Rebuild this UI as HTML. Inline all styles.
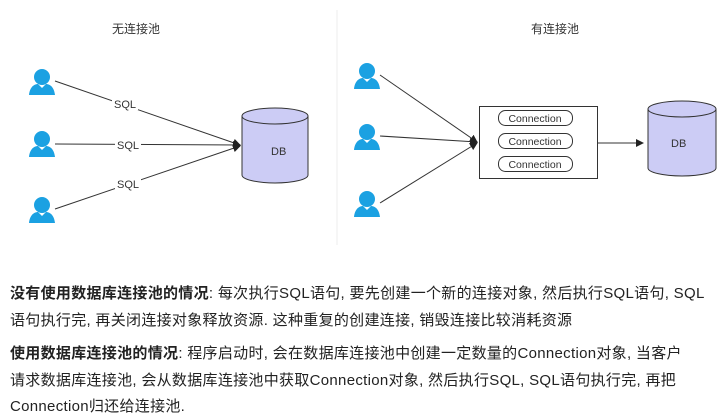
<!DOCTYPE html>
<html><head><meta charset="utf-8"><style>
body{margin:0;width:727px;height:417px;background:#fff;overflow:hidden;position:relative;font-family:"Liberation Sans","Noto Sans CJK SC",sans-serif}
svg{position:absolute;left:0;top:0}
.t{position:absolute;left:10px;font-size:15px;color:#222;white-space:nowrap;line-height:27px;letter-spacing:0.3px}
b{font-weight:bold}
</style></head><body>
<svg width="727" height="260" viewBox="0 0 727 260">
<defs>
<g id="u"><circle cx="13" cy="9" r="8" fill="#1ba1e2"/><path d="M0 27 C1 18 6 16 9 16 L13 20 L17 16 C20 16 25 18 26 27 Z" fill="#1ba1e2"/></g>
<marker id="a" markerWidth="8" markerHeight="8" refX="7" refY="4" orient="auto" markerUnits="userSpaceOnUse"><path d="M0 0 L8 4 L0 8 Z" fill="#222"/></marker>
</defs>
<line x1="337" y1="10" x2="337" y2="245" stroke="#eee"/>
<text x="136" y="33" font-size="12" text-anchor="middle" fill="#333" font-family="Liberation Sans,Noto Sans CJK SC,sans-serif">无连接池</text>
<text x="555" y="33" font-size="12" text-anchor="middle" fill="#333" font-family="Liberation Sans,Noto Sans CJK SC,sans-serif">有连接池</text>
<use href="#u" x="29" y="68"/><use href="#u" x="29" y="130"/><use href="#u" x="29" y="196"/>
<g stroke="#333" stroke-width="1">
<line x1="55" y1="81" x2="240" y2="145" marker-end="url(#a)"/>
<line x1="55" y1="144" x2="240" y2="145" marker-end="url(#a)"/>
<line x1="55" y1="209" x2="240" y2="146" marker-end="url(#a)"/>
</g>
<g font-size="11" fill="#333" text-anchor="middle">
<rect x="112" y="98" width="26" height="12" fill="#fff"/><text x="125" y="108">SQL</text>
<rect x="115" y="139" width="26" height="12" fill="#fff"/><text x="128" y="149">SQL</text>
<rect x="115" y="178" width="26" height="12" fill="#fff"/><text x="128" y="188">SQL</text>
</g>
<g stroke="#333" fill="#ccccf5">
<path d="M242 116 L242 175 A33 8 0 0 0 308 175 L308 116"/>
<ellipse cx="275" cy="116" rx="33" ry="8"/>
</g>
<text x="271" y="155" font-size="11" fill="#333">DB</text>
<use href="#u" x="354" y="62"/><use href="#u" x="354" y="123"/><use href="#u" x="354" y="190"/>
<g stroke="#333" stroke-width="1">
<line x1="380" y1="75" x2="477" y2="142" marker-end="url(#a)"/>
<line x1="380" y1="136" x2="477" y2="142" marker-end="url(#a)"/>
<line x1="380" y1="203" x2="477" y2="143" marker-end="url(#a)"/>
<line x1="597" y1="143" x2="643" y2="143" marker-end="url(#a)"/>
</g>
<rect x="479.5" y="106.5" width="118" height="72" fill="#fff" stroke="#333"/>
<g fill="#fff" stroke="#333">
<rect x="498.5" y="110.5" width="74" height="15" rx="7"/>
<rect x="498.5" y="133.5" width="74" height="15" rx="7"/>
<rect x="498.5" y="156.5" width="74" height="15" rx="7"/>
</g>
<g font-size="10.5" fill="#333" text-anchor="middle">
<text x="535" y="122">Connection</text><text x="535" y="145">Connection</text><text x="535" y="168">Connection</text>
</g>
<g stroke="#333" fill="#ccccf5">
<path d="M648 109 L648 168 A34 8 0 0 0 716 168 L716 109"/>
<ellipse cx="682" cy="109" rx="34" ry="8"/>
</g>
<text x="671" y="147" font-size="11" fill="#333">DB</text>
</svg>
<div class="t" style="top:280px"><b>没有使用数据库连接池的情况</b>: 每次执行SQL语句, 要先创建一个新的连接对象, 然后执行SQL语句, SQL</div>
<div class="t" style="top:307px">语句执行完, 再关闭连接对象释放资源. 这种重复的创建连接, 销毁连接比较消耗资源</div>
<div class="t" style="top:340px"><b>使用数据库连接池的情况</b>: 程序启动时, 会在数据库连接池中创建一定数量的Connection对象, 当客户</div>
<div class="t" style="top:367px">请求数据库连接池, 会从数据库连接池中获取Connection对象, 然后执行SQL, SQL语句执行完, 再把</div>
<div class="t" style="top:393px">Connection归还给连接池.</div>
</body></html>
